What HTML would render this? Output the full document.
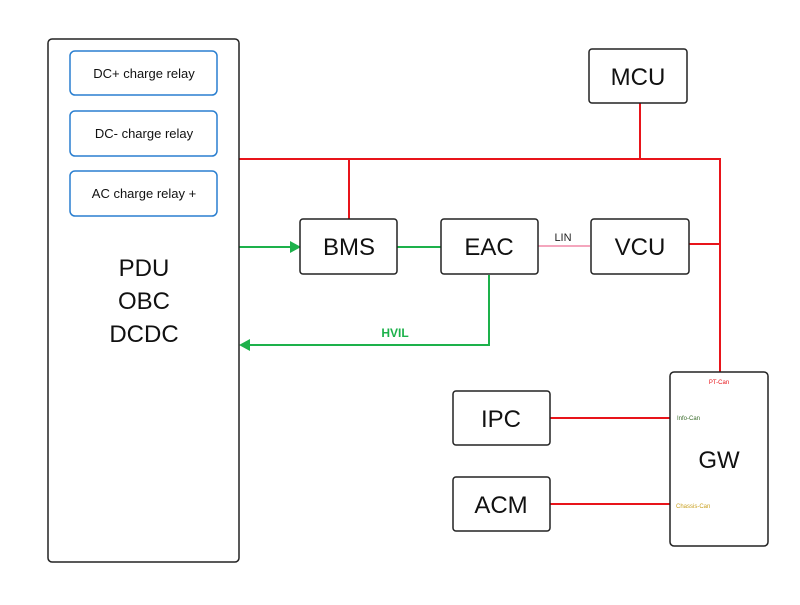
<!DOCTYPE html><html><head><style>body{margin:0;background:#fff}</style></head><body>
<svg width="800" height="600" xmlns="http://www.w3.org/2000/svg" font-family="Liberation Sans, sans-serif">
<rect width="800" height="600" fill="#fff"/>
<g stroke="#e8141a" stroke-width="2" fill="none">
<path d="M239 159H720V372M640 103V159M349 159V220M688 244H720M550 418H670M550 504H670"/>
</g>
<path d="M538 246H590" stroke="#f4a6bd" stroke-width="2"/>
<g stroke="#1db14b" stroke-width="2" fill="none">
<path d="M239 247H292M397 247H441M489 275V345H248"/>
</g>
<path d="M301 247l-11-6v12z" fill="#1db14b"/>
<path d="M239 345l11-6v12z" fill="#1db14b"/>
<g fill="#fff" stroke="#222" stroke-width="1.5">
<rect x="48" y="39" width="191" height="523" rx="4"/>
<rect x="589" y="49" width="98" height="54" rx="3"/>
<rect x="300" y="219" width="97" height="55" rx="3"/>
<rect x="441" y="219" width="97" height="55" rx="3"/>
<rect x="591" y="219" width="98" height="55" rx="3"/>
<rect x="453" y="391" width="97" height="54" rx="3"/>
<rect x="453" y="477" width="97" height="54" rx="3"/>
<rect x="670" y="372" width="98" height="174" rx="4"/>
</g>
<g fill="#fff" stroke="#2a7fd0" stroke-width="1.5">
<rect x="70" y="51" width="147" height="44" rx="5"/>
<rect x="70" y="111" width="147" height="45" rx="5"/>
<rect x="70" y="171" width="147" height="45" rx="5"/>
</g>
<g font-size="13" text-anchor="middle" fill="#111">
<text x="144" y="78">DC+ charge relay</text>
<text x="144" y="138">DC- charge relay</text>
<text x="144" y="198">AC  charge relay +</text>
</g>
<g font-size="24" text-anchor="middle" fill="#111">
<text x="144" y="276">PDU</text>
<text x="144" y="309">OBC</text>
<text x="144" y="342">DCDC</text>
<text x="638" y="85">MCU</text>
<text x="349" y="255">BMS</text>
<text x="489" y="255">EAC</text>
<text x="640" y="255">VCU</text>
<text x="501" y="427">IPC</text>
<text x="501" y="513">ACM</text>
<text x="719" y="468">GW</text>
</g>
<text x="563" y="241" font-size="11" text-anchor="middle" fill="#222">LIN</text>
<text x="395" y="337" font-size="12" font-weight="bold" text-anchor="middle" fill="#1db14b">HVIL</text>
<text x="719" y="384" font-size="6" text-anchor="middle" fill="#e8141a">PT-Can</text>
<text x="677" y="420" font-size="6" fill="#3a6b2a">Info-Can</text>
<text x="676" y="508" font-size="6" fill="#c9a020">Chassis-Can</text>
</svg></body></html>
